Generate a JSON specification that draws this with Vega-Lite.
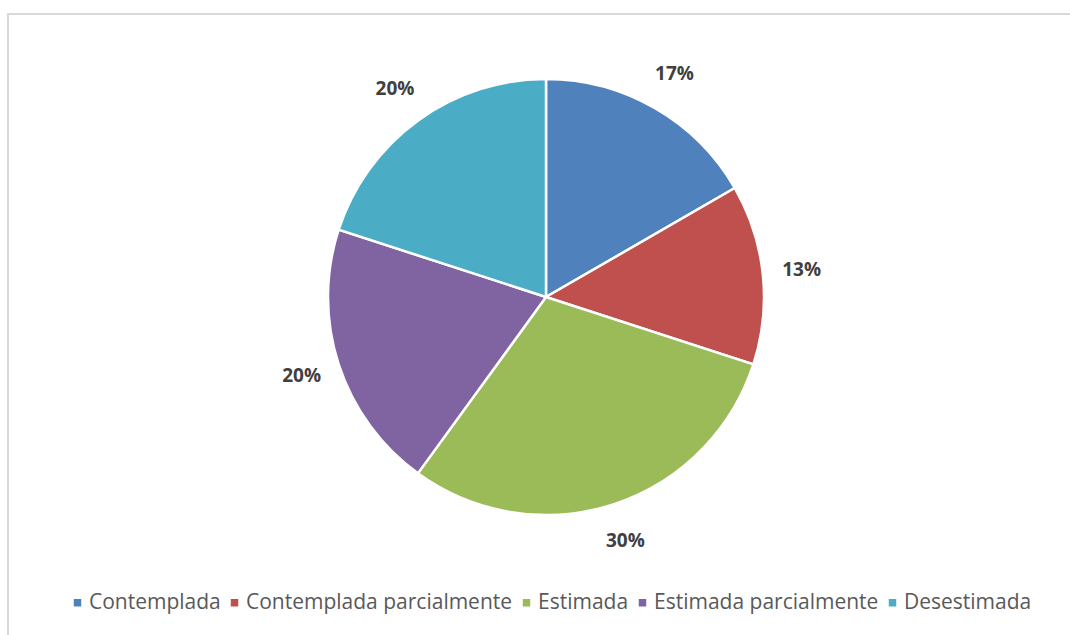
{
  "$schema": "https://vega.github.io/schema/vega-lite/v6.json",
  "autosize": {"type": "none"},
  "width": 1070,
  "height": 640,
  "padding": {"left": 8, "top": 14, "right": 0, "bottom": 0},
  "background": "white",
  "view": {"stroke": "#d9d9d9", "strokeWidth": 2},
  "config": {
    "view": {"stroke": "#d9d9d9", "strokeWidth": 2},
    "font": "Open Sans"
  },
  "data": {
    "values": [
      {"categoria": "Contemplada", "orden": 1, "valor": 0.1667},
      {"categoria": "Contemplada parcialmente", "orden": 2, "valor": 0.1333},
      {"categoria": "Estimada", "orden": 3, "valor": 0.30},
      {"categoria": "Estimada parcialmente", "orden": 4, "valor": 0.20},
      {"categoria": "Desestimada", "orden": 5, "valor": 0.20}
    ]
  },
  "encoding": {
    "theta": {"field": "valor", "type": "quantitative", "stack": true},
    "order": {"field": "orden", "type": "quantitative"},
    "color": {
      "field": "categoria",
      "type": "nominal",
      "sort": ["Contemplada", "Contemplada parcialmente", "Estimada", "Estimada parcialmente", "Desestimada"],
      "scale": {
        "domain": ["Contemplada", "Contemplada parcialmente", "Estimada", "Estimada parcialmente", "Desestimada"],
        "range": ["#4F81BD", "#C0504D", "#9BBB59", "#8064A2", "#4BACC6"]
      },
      "legend": {
        "title": null,
        "orient": "none",
        "direction": "horizontal",
        "legendX": 59,
        "legendY": 578,
        "symbolType": "square",
        "symbolSize": 56,
        "symbolStrokeWidth": 0,
        "labelFontSize": 21,
        "labelColor": "#595959",
        "labelFont": "Open Sans",
        "labelLimit": 0,
        "columnPadding": 3,
        "labelOffset": 1
      }
    }
  },
  "layer": [
    {
      "mark": {"type": "arc", "x": 538, "y": 283, "outerRadius": 218, "stroke": "white", "strokeWidth": 2.5}
    },
    {
      "mark": {"type": "text", "x": 538, "y": 283, "radius": 257, "fontSize": 19, "fontWeight": "bold", "font": "Open Sans"},
      "encoding": {
        "text": {"field": "valor", "type": "quantitative", "format": ".0%"},
        "color": {"value": "#404040"}
      }
    }
  ]
}
